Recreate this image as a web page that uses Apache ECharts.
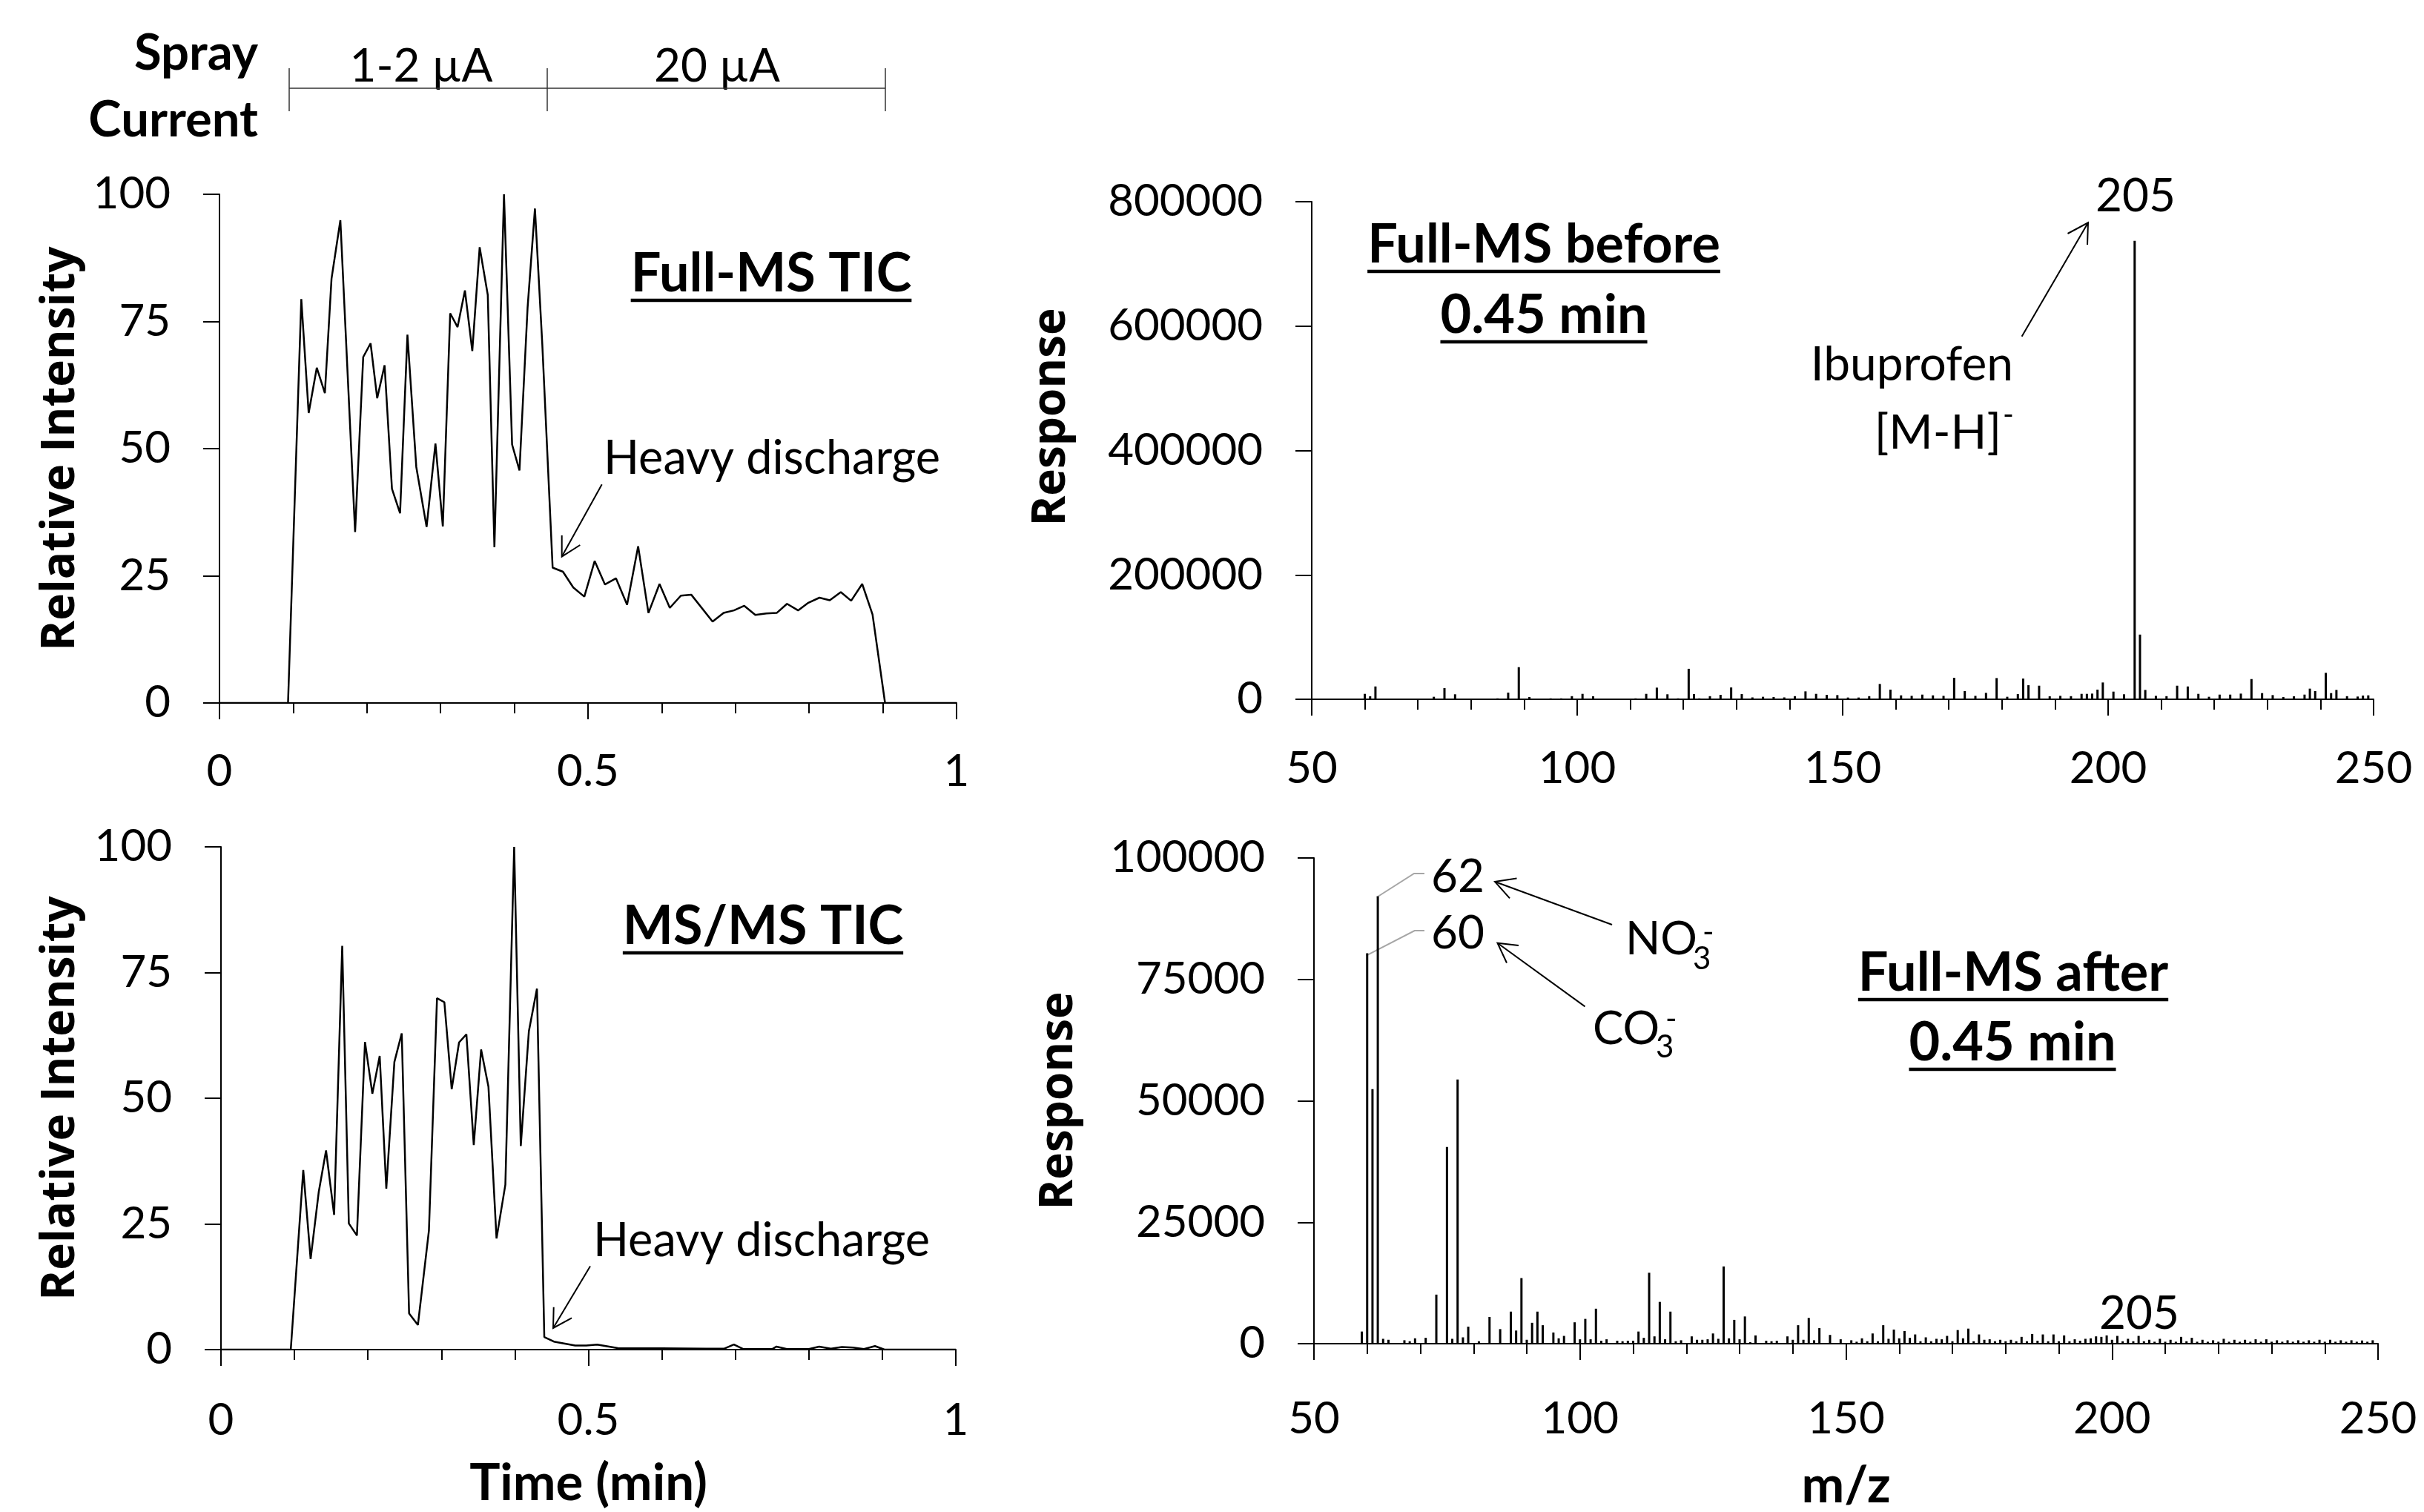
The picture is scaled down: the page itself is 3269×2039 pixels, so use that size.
<!DOCTYPE html>
<html><head><meta charset="utf-8">
<script src="https://cdn.jsdelivr.net/npm/echarts@6/dist/echarts.min.js"></script>
<style>html,body{margin:0;padding:0;background:#fff}#c{width:3269px;height:2039px}</style>
</head><body><div id="c"></div>
<script>
// ---------- DATA ----------
// Full-MS TIC: [time (min), relative intensity]
const ticFullMS = [[0,0],[0.093,0],[0.111,79.4],[0.121,57.0],[0.132,65.9],[0.143,60.9],[0.152,83.4],[0.164,94.9],
[0.184,33.6],[0.195,68.0],[0.205,70.7],[0.214,59.9],[0.224,66.4],[0.234,42.1],[0.245,37.3],[0.255,72.4],[0.267,46.4],
[0.281,34.6],[0.293,51.0],[0.303,34.7],[0.313,76.6],[0.323,73.9],[0.333,81.1],[0.343,69.2],[0.353,89.6],[0.364,80.2],
[0.373,30.6],[0.386,100],[0.397,50.8],[0.407,45.7],[0.418,77.7],[0.428,97.2],[0.438,70.4],[0.452,26.6],[0.466,25.8],
[0.480,22.7],[0.495,20.9],[0.509,27.9],[0.523,23.3],[0.538,24.5],[0.553,19.3],[0.568,30.8],[0.582,17.7],[0.597,23.4],
[0.611,18.7],[0.626,21.1],[0.640,21.3],[0.669,16.0],[0.684,17.7],[0.698,18.2],[0.712,19.1],[0.727,17.3],[0.742,17.6],
[0.756,17.7],[0.770,19.5],[0.785,18.2],[0.799,19.7],[0.814,20.7],[0.828,20.2],[0.843,21.8],[0.857,20.1],[0.872,23.4],
[0.886,17.4],[0.903,0],[1.0,0]];
// MS/MS TIC
const ticMSMS = [[0,0],[0.095,0],[0.112,35.7],[0.122,18.0],[0.133,31.3],[0.143,39.6],[0.154,26.8],[0.165,80.3],
[0.174,25.1],[0.185,22.7],[0.196,61.2],[0.206,50.9],[0.216,58.4],[0.225,32.0],[0.236,57.2],[0.246,62.9],[0.256,7.2],
[0.268,4.9],[0.283,23.7],[0.294,69.9],[0.304,69.1],[0.314,51.8],[0.324,61.1],[0.334,62.7],[0.344,40.7],[0.354,59.7],
[0.364,52.3],[0.375,22.1],[0.387,32.8],[0.399,100],[0.408,40.5],[0.419,63.3],[0.430,71.8],[0.440,2.5],[0.453,1.6],
[0.482,0.8],[0.497,0.8],[0.512,1.0],[0.540,0.3],[0.600,0.25],[0.660,0.2],[0.685,0.2],[0.698,1.0],[0.711,0.1],
[0.750,0.1],[0.756,0.6],[0.770,0.1],[0.800,0.1],[0.814,0.6],[0.830,0.2],[0.845,0.5],[0.860,0.4],[0.875,0.1],
[0.890,0.7],[0.903,0],[1.0,0]];
// Full-MS spectrum before 0.45 min: [m/z, response]
const specBefore = [[52,1200],[55,1000],[58,1200],[60,8700],[61,4800],[62,20600],[65,1000],[69,1200],[73,4000],[75,18000],
[77,8000],[81,1200],[85,1500],[87,10700],[89,51600],[91,3600],[95,1500],[97,1500],[99,5000],[101,8700],[103,4800],
[107,1200],[111,1500],[113,8700],[115,18700],[117,8000],[119,1500],[121,49000],[122,8300],[123,1500],[125,5000],
[127,7100],[129,19000],[131,8300],[133,3000],[135,4000],[137,3600],[139,3000],[141,5000],[143,12700],[145,8700],
[147,7100],[149,6700],[151,2800],[153,2800],[155,5000],[157,24600],[159,15500],[161,6300],[163,5500],[165,7500],
[167,6300],[169,5500],[171,34500],[173,13100],[175,5500],[177,10300],[179,34100],[181,4000],[183,8300],[184,33300],
[185,22600],[187,21800],[189,4800],[191,5500],[193,5000],[195,8700],[196,8700],[197,9100],[198,15500],[199,27000],
[201,12300],[203,8000],[205,737000],[206,104000],[207,15000],[209,5500],[211,5000],[213,21800],[215,20600],[217,8700],
[219,4000],[221,7500],[223,7500],[225,9100],[227,32500],[229,9900],[231,6700],[233,3500],[235,4800],[237,7500],
[238,17100],[239,13100],[241,42500],[242,9900],[243,15000],[245,5000],[247,4400],[248,6000],[249,6300]];
// Full-MS spectrum after 0.45 min
const specAfter = [[59,2500],[60,80400],[61,52400],[62,92100],[63,1000],[64,800],[67,700],[68,500],[69,1100],[71,1200],
[73,10100],[75,40500],[76,1000],[77,54400],[78,1300],[79,3500],[81,500],[83,5500],[85,3000],[87,6600],[88,2700],
[89,13500],[90,800],[91,4300],[92,6600],[93,3800],[95,2300],[96,1100],[97,1600],[99,4400],[100,900],[101,5100],
[102,900],[103,7200],[104,600],[105,900],[107,600],[108,500],[109,600],[110,600],[111,2500],[112,1200],[113,14600],
[114,1500],[115,8600],[116,900],[117,6600],[118,500],[119,700],[121,1500],[122,800],[123,800],[124,900],[125,2100],
[126,1000],[127,15900],[128,1100],[129,4900],[130,900],[131,5600],[132,300],[133,1700],[135,600],[136,500],[137,600],
[139,1500],[140,800],[141,3800],[142,800],[143,5300],[144,700],[145,3200],[147,1800],[149,900],[151,700],[152,400],
[153,1100],[154,500],[155,2100],[156,500],[157,3800],[158,1000],[159,2900],[160,1100],[161,2600],[162,1200],[163,1900],
[164,500],[165,1300],[166,500],[167,1000],[168,900],[169,1600],[170,500],[171,2800],[172,1100],[173,3100],[174,500],
[175,1900],[176,800],[177,900],[178,500],[179,800],[180,500],[181,800],[182,500],[183,1400],[184,500],[185,2000],
[186,600],[187,1900],[188,500],[189,1900],[190,500],[191,1700],[192,500],[193,900],[194,600],[195,1000],[196,1100],
[197,1500],[198,1400],[199,1700],[200,800],[201,1600],[202,500],[203,1000],[204,500],[205,1600],[206,500],[207,800],
[208,400],[209,1000],[210,400],[211,800],[212,400],[213,1400],[214,500],[215,1200],[216,400],[217,800],[218,400],
[219,700],[220,400],[221,1000],[222,400],[223,800],[224,400],[225,800],[226,400],[227,900],[228,400],[229,900],
[230,400],[231,700],[232,400],[233,700],[234,400],[235,700],[236,400],[237,700],[238,400],[239,800],[240,400],
[241,800],[242,400],[243,700],[244,400],[245,700],[246,400],[247,650],[248,400],[249,700]];

// ---------- CHART ----------
const chart = echarts.init(document.getElementById('c'), null, {renderer:'canvas'});
const REG = 'Lato', AXB = 'Open Sans';
const black = '#000';
function xAx(gi, min, max, interval, margin, name, nameGap){
  return {type:'value', gridIndex:gi, min:min, max:max, interval:interval,
    name:name||'', nameLocation:'middle', nameGap:nameGap||0,
    nameTextStyle:{fontFamily:REG, fontWeight:'bold', fontSize:69, color:black},
    axisLine:{show:true, onZero:false, lineStyle:{color:black, width:2}},
    axisTick:{show:true, length:22, lineStyle:{color:black, width:2}},
    minorTick:{show:true, splitNumber:5, length:14, lineStyle:{color:black, width:2}},
    splitLine:{show:false}, minorSplitLine:{show:false},
    axisLabel:{fontFamily:REG, fontSize:60, color:black, margin:margin, formatter:v=>String(v)}};
}
function yAx(gi, max, interval, name, nameGap, pad){
  return {type:'value', gridIndex:gi, min:0, max:max, interval:interval,
    name:name, nameLocation:'middle', nameGap:nameGap,
    nameTextStyle:{fontFamily:AXB, fontWeight:'bold', fontSize:62, color:black, padding:pad||0},
    axisLine:{show:true, lineStyle:{color:black, width:2}},
    axisTick:{show:true, length:22, lineStyle:{color:black, width:2}},
    splitLine:{show:false},
    axisLabel:{fontFamily:REG, fontSize:60, color:black, margin:66, formatter:v=>String(v)}};
}

const ctx = document.createElement('canvas').getContext('2d');
function tw(text, font){ ctx.font = font; return ctx.measureText(text).width; }

const g = [];
function txt(text, x, y, size, bold, align){
  g.push({type:'text', silent:true, style:{text:text, x:x, y:y, fill:black,
    fontFamily:REG, fontSize:size, fontWeight:bold?'bold':'normal',
    textAlign:align||'center', align:align||'center', textVerticalAlign:'middle', verticalAlign:'middle'}});
}
function line(pts, color, w){
  g.push({type:'polyline', silent:true, shape:{points:pts}, style:{stroke:color||black, lineWidth:w||2, fill:null}});
}
function title(text, cx, baseline){
  const fs = 72;
  txt(text, cx, baseline - 0.33*fs, fs, true, 'center');
  const w = tw(text, 'bold '+fs+'px '+REG);
  line([[cx - w/2, baseline + 11],[cx + w/2, baseline + 11]], black, 4.5);
}

// Spray current header
txt('Spray', 348, 72, 67, true, 'right');
txt('Current', 348, 162, 67, true, 'right');
txt('1-2 µA', 568, 90, 62, false, 'center');
txt('20 µA', 967, 90, 62, false, 'center');
line([[390,119],[1194,119]], '#333', 1.5);
line([[390,92],[390,150]], '#333', 1.5);
line([[738,92],[738,150]], '#333', 1.5);
line([[1194,92],[1194,150]], '#333', 1.5);

// Titles
title('Full-MS TIC', 1040, 394);
title('MS/MS TIC', 1029, 1274);
title('Full-MS before', 2082, 355);
title('0.45 min', 2082, 450);
title('Full-MS after', 2715, 1337);
title('0.45 min', 2714, 1431);

// Heavy discharge annotations
txt('Heavy discharge', 814, 619, 63, false, 'left');
line([[811.7,653.2],[757.7,750.6]]);
line([[757.7,722],[757.7,750.6],[782.3,735]]);
txt('Heavy discharge', 800, 1674, 63, false, 'left');
line([[796,1707.6],[746,1791]]);
line([[746.7,1762.7],[746,1791],[771,1777.4]]);

// Top-right annotations
txt('205', 2880, 265, 62, false, 'center');
txt('Ibuprofen', 2715, 492, 64, false, 'right');
txt('[M-H]', 2699, 584, 64, false, 'right');
txt('-', 2701, 560, 40, false, 'left');
line([[2726.6,453.7],[2816,300.3]]);
line([[2788.5,315],[2816,300.3],[2815,330]]);

// Bottom-right annotations
txt('62', 1930, 1183, 62, false, 'left');
txt('60', 1930, 1259, 62, false, 'left');
line([[1856.7,1210],[1907,1178],[1921,1178]], '#a6a6a6', 2);
line([[1842.6,1288.7],[1907.7,1255],[1921,1255]], '#a6a6a6', 2);
txt('NO', 2192, 1267, 62, false, 'left');
txt('3', 2283, 1293, 42, false, 'left');
txt('-', 2296, 1257, 42, false, 'left');
line([[2174,1247],[2016,1189]]);
line([[2045.5,1184.6],[2016,1189],[2036,1211.4]]);
txt('CO', 2148, 1388, 62, false, 'left');
txt('3', 2233, 1412, 42, false, 'left');
txt('-', 2246, 1374, 42, false, 'left');
line([[2137.5,1357.4],[2019.5,1271.7]]);
line([[2048,1275],[2019.5,1271.7],[2032,1298.5]]);
txt('205', 2885, 1772, 62, false, 'center');

const option = {
  backgroundColor:'#fff',
  animation:false,
  grid:[
    {left:296, top:262, width:994, height:686},
    {left:298, top:1142, width:991, height:678},
    {left:1769, top:272, width:1432, height:671},
    {left:1772, top:1157, width:1435, height:673}
  ],
  xAxis:[
    xAx(0, 0, 1, 0.5, 63),
    xAx(1, 0, 1, 0.5, 66, 'Time (min)', 146),
    xAx(2, 50, 250, 50, 64),
    xAx(3, 50, 250, 50, 72, 'm/z', 157)
  ],
  yAxis:[
    yAx(0, 100, 25, 'Relative Intensity', 183),
    yAx(1, 100, 25, 'Relative Intensity', 185),
    yAx(2, 800000, 200000, 'Response', 320, [0,0,0,90]),
    yAx(3, 100000, 25000, 'Response', 313)
  ],
  series:[
    {type:'line', xAxisIndex:0, yAxisIndex:0, data:ticFullMS, symbol:'none', lineStyle:{color:black, width:2.5}},
    {type:'line', xAxisIndex:1, yAxisIndex:1, data:ticMSMS, symbol:'none', lineStyle:{color:black, width:2.5}},
    {type:'bar', xAxisIndex:2, yAxisIndex:2, data:specBefore, barWidth:3, itemStyle:{color:black}},
    {type:'bar', xAxisIndex:3, yAxisIndex:3, data:specAfter, barWidth:3, itemStyle:{color:black}}
  ],
  graphic:g
};
chart.setOption(option);
</script></body></html>
